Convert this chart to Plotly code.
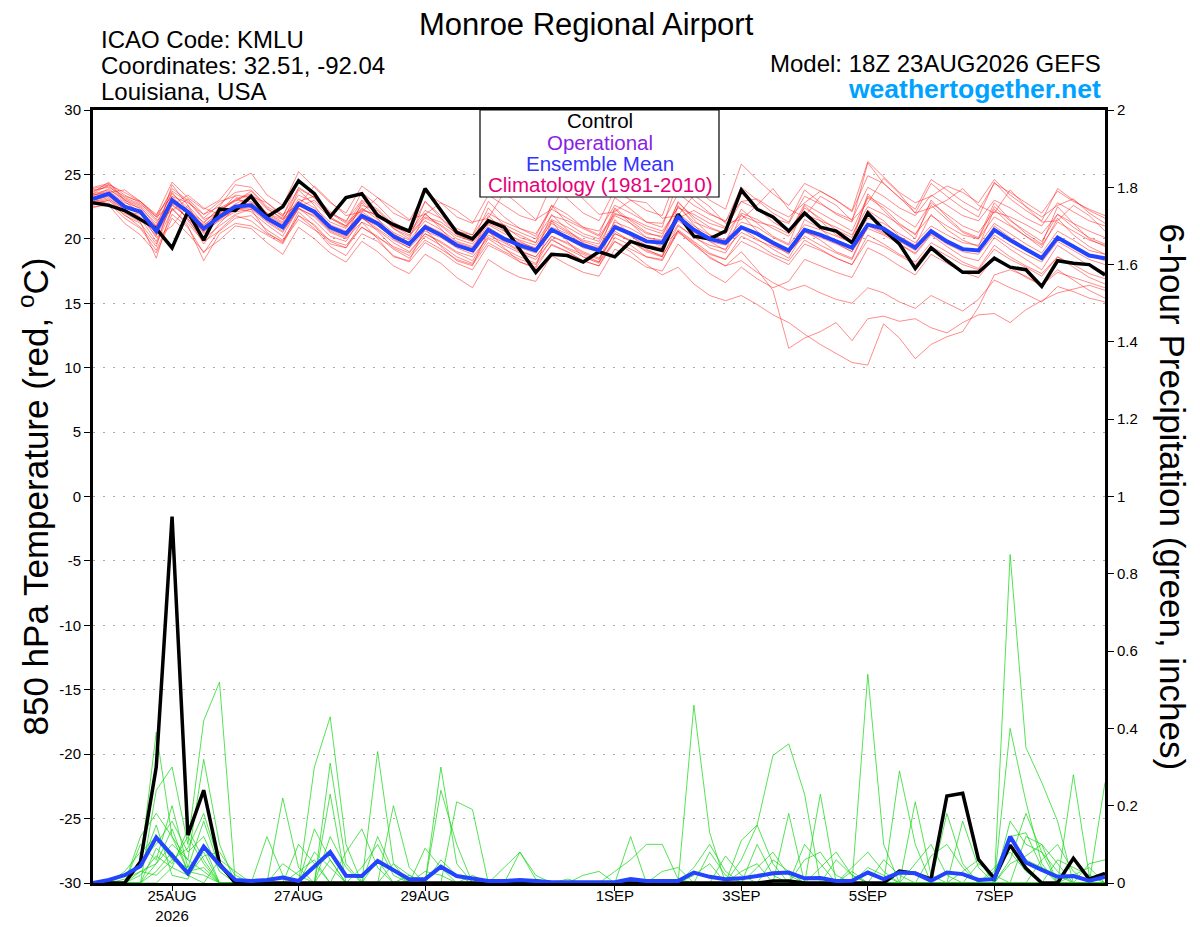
import plotly.graph_objects as go
import pandas as pd

# 6-hourly forecast steps of the 18Z 23AUG2026 GEFS run
times = pd.date_range("2026-08-23 18:00", periods=65, freq="6h")

# 850 hPa temperature (C): control and ensemble mean
ctl_temp = [22.8, 22.6,22.2,21.5,20.8, 19.3,22.1,19.9,22.3, 22.2,23.3,21.7,22.5, 24.5,23.5,21.7,23.2,
            23.5,21.8,21.1,20.6, 23.9,22.2,20.5,20.0, 21.4,20.9,19.2,17.4, 18.8,18.7,18.2,19.0,
            18.6,19.8,19.4,19.1, 21.9,20.2,20.0,20.6, 23.8,22.3,21.7,20.6, 22.0,20.9,20.6,19.7,
            22.0,20.7,19.6,17.7, 19.3,18.3,17.4,17.4, 18.5,17.8,17.6,16.3, 18.3,18.1,18.0,17.2]
mean_temp = [23.1, 23.5,22.5,22.1,20.6, 23.0,22.1,20.8,21.7, 22.5,22.6,21.6,20.9, 22.7,22.1,20.9,20.4,
             21.8,21.2,20.2,19.6, 20.9,20.3,19.5,19.1, 20.7,20.0,19.5,19.1, 20.7,20.1,19.5,19.1,
             20.9,20.4,19.8,19.7, 21.7,20.7,20.0,19.7, 20.9,20.4,19.7,19.1, 20.7,20.3,19.8,19.3,
             21.1,20.8,20.0,19.3, 20.6,19.8,19.2,19.1, 20.7,19.9,19.2,18.5, 20.1,19.4,18.7,18.5]

# 6-hour precipitation (inches): control and ensemble mean
ctl_precip = [0, 0,0,0.055,0.30, 0.948,0.124,0.24,0.05, 0,0,0,0, 0,0,0,0,
              0,0,0,0, 0,0,0,0, 0,0,0,0, 0,0,0,0,
              0,0,0,0, 0,0,0,0, 0,0,0.005,0.005, 0,0,0,0,
              0,0,0.031,0.025, 0.01,0.225,0.232,0.061, 0.012,0.098,0.038,0, 0,0.064,0.01,0.025]
mean_precip = [0, 0.008,0.02,0.044,0.118, 0.07,0.025,0.094,0.047, 0.008,0.005,0.008,0.014, 0.005,0.042,0.08,0.019,
               0.018,0.057,0.034,0.01, 0.01,0.042,0.018,0.012, 0.005,0.005,0.008,0.005, 0.002,0.002,0.002,0.002,
               0.002,0.01,0.005,0.005, 0.005,0.027,0.016,0.01, 0.012,0.018,0.025,0.027, 0.012,0.013,0.005,0.006,
               0.027,0.01,0.027,0.025, 0.006,0.027,0.023,0.008, 0.01,0.12,0.053,0.034, 0.016,0.018,0.006,0.016]

# ensemble member temperatures
t_m01 = [24.0, 24.3,23.4,22.8,21.5, 23.9,23.0,21.6,22.7, 23.6,23.8,22.5,21.8, 23.9,23.2,22.0,21.4, 23.0,22.3,21.1,20.5, 22.2,21.6,20.6,20.3, 22.0,21.3,20.8,20.4, 22.3,21.6,20.9,20.6, 22.6,22.0,21.3,21.2, 23.5,22.6,21.9,21.4, 22.9,22.3,21.6,21.2, 23.3,22.7,22.0,21.5, 24.0,23.3,22.4,21.8, 23.4,22.6,21.8,21.4, 23.0,22.4,21.6,21.0, 22.8,22.1,21.4,21.0]
t_m02 = [22.6, 23.0,21.8,21.2,19.6, 22.3,21.2,19.8,20.6, 21.6,21.8,20.7,19.9, 21.8,21.1,19.8,19.3, 20.9,20.2,19.2,18.5, 19.9,19.2,18.4,18.0, 19.7,19.0,18.4,18.0, 19.5,19.0,18.3,17.9, 19.8,19.2,18.6,18.4, 20.5,19.6,18.8,18.4, 19.8,19.2,18.6,18.0, 19.6,19.1,18.5,18.0, 19.9,19.4,18.7,18.0, 19.4,18.7,18.0,17.6, 19.2,18.4,17.8,17.1, 18.6,18.0,17.3,16.9]
t_m03 = [23.3, 23.9,22.9,22.0,20.1, 21.0,22.6,21.2,22.4, 23.0,23.4,22.0,21.3, 24.0,23.2,21.6,21.0, 22.9,22.0,20.8,20.0, 22.9,21.6,20.3,19.8, 21.2,20.6,19.8,19.2, 21.4,20.6,19.9,19.6, 21.8,21.2,20.4,20.2, 22.8,21.7,20.9,20.4, 23.5,22.4,21.3,20.6, 22.4,21.6,20.7,20.1, 23.2,22.4,21.2,20.3, 22.6,21.5,20.5,20.0, 22.5,21.4,20.6,19.8, 21.9,20.9,20.1,19.6]
t_m04 = [23.6, 24.4,23.0,22.3,20.3, 24.2,22.6,20.5,22.0, 23.4,23.2,21.8,20.8, 23.8,22.6,20.9,20.3, 22.8,21.6,20.0,19.3, 22.0,20.8,19.4,19.0, 21.8,20.6,19.6,19.0, 21.9,20.7,19.7,19.1, 22.3,21.2,20.1,19.8, 22.9,21.5,20.3,19.8, 22.3,21.2,20.2,19.6, 22.6,21.4,20.3,19.7, 23.5,22.2,21.0,20.0, 23.0,21.7,20.6,20.1, 22.8,21.5,20.4,19.6, 22.5,21.2,20.0,19.4]
t_m05 = [22.9, 23.2,22.0,21.3,18.5, 22.4,21.0,18.3,20.4, 21.2,21.0,20.3,19.6, 21.8,20.8,19.4,18.7, 20.4,19.8,18.7,18.2, 19.7,19.0,18.1,17.6, 19.5,18.9,18.2,17.7, 19.6,19.0,18.3,17.9, 20.1,19.5,18.6,18.3, 20.7,19.8,18.9,18.4, 20.2,19.6,18.8,18.3, 19.9,19.2,18.5,18.0, 20.3,19.6,18.8,18.2, 19.7,19.0,18.2,17.7, 19.5,18.6,17.9,17.3, 18.6,17.8,17.0,16.5]
t_m06 = [23.8, 24.0,23.3,22.9,21.9, 23.3,22.8,21.9,22.5, 24.2,24.0,22.8,21.7, 24.6,23.4,22.1,21.3, 23.6,22.6,21.3,20.6, 22.9,21.8,20.8,20.3, 22.9,21.7,20.8,20.2, 22.6,21.9,20.9,20.3, 23.2,22.3,21.3,20.9, 24.5,23.0,22.0,21.3, 24.0,23.0,22.0,21.3, 23.8,22.8,21.9,21.3, 25.9,24.3,23.2,22.0, 24.3,23.3,22.4,21.7, 24.4,23.1,22.2,21.4, 23.9,23.0,22.2,21.6]
t_m07 = [23.0, 23.4,22.6,22.0,21.0, 22.8,22.2,20.4,21.5, 22.3,22.4,21.4,20.6, 22.3,21.8,20.6,20.1, 21.6,20.8,19.9,19.3, 20.6,20.1,19.3,18.8, 20.5,19.8,19.1,18.6, 20.2,19.7,19.0,18.5, 20.4,19.8,19.1,18.7, 20.6,19.7,18.5,17.9, 19.0,17.6,16.0,11.5, 12.3,12.8,13.5,12.1, 13.8,14.0,13.6,13.8, 13.1,12.7,13.5,14.1, 14.2,13.5,14.5,15.2, 15.8,16.1,16.4,16.0]
t_m08 = [22.8, 23.1,22.3,21.7,20.2, 22.6,21.7,20.6,21.4, 22.1,22.3,21.3,20.5, 22.4,21.7,20.5,20.0, 21.3,20.7,19.7,19.0, 20.4,19.8,19.0,18.6, 20.1,19.5,18.9,18.4, 19.9,19.3,18.8,18.2, 19.8,19.0,18.0,17.2, 17.8,16.5,15.6,15.2, 15.6,14.9,14.1,13.5, 12.6,11.8,11.1,10.4, 10.2,13.4,12.3,10.7, 11.8,12.4,12.8,14.7, 17.2,17.6,17.1,16.4, 17.4,17.0,16.6,16.2]
t_m09 = [23.2, 23.6,22.4,22.2,20.9, 23.3,22.0,21.1,21.9, 22.6,22.8,21.8,21.1, 22.9,22.2,21.1,20.6, 22.1,21.3,20.4,19.7, 21.1,20.5,19.7,19.3, 20.9,20.1,19.7,19.3, 20.9,20.4,19.6,19.3, 21.1,20.5,19.9,19.4, 20.6,19.5,18.6,17.9, 18.3,17.4,16.6,16.0, 16.4,15.8,15.3,15.0, 16.2,15.8,15.1,14.6, 15.6,15.0,14.4,15.3, 16.8,16.2,15.7,15.1, 16.3,15.9,15.4,15.1]
t_m10 = [23.4, 23.7,22.8,22.4,21.2, 23.5,22.4,21.0,22.2, 23.0,22.9,21.9,21.2, 23.1,22.4,21.3,20.8, 22.4,21.5,20.5,19.9, 21.4,20.7,19.8,19.4, 21.1,20.4,19.9,19.5, 21.2,20.5,19.8,19.4, 21.3,20.8,20.1,19.9, 22.0,21.0,20.3,19.9, 21.3,20.9,20.1,19.5, 21.1,20.7,20.2,19.7, 21.6,21.2,20.4,19.7, 21.0,20.3,19.7,19.5, 21.2,20.4,19.6,18.9, 20.6,19.9,19.1,18.8]
t_m11 = [23.5, 23.8,23.1,22.6,21.4, 22.2,23.1,21.9,22.9, 23.3,22.4,22.0,21.5, 22.5,23.0,21.7,21.0, 22.2,21.9,20.8,20.2, 21.6,21.1,20.2,19.8, 22.4,21.0,20.1,19.7, 22.6,21.2,20.4,20.0, 21.9,21.6,21.0,20.6, 22.4,21.9,21.2,20.8, 22.9,23.1,22.3,21.7, 22.8,23.7,23.0,22.2, 26.0,24.8,23.6,22.8, 23.3,24.1,23.6,22.8, 24.6,23.4,22.5,21.7, 22.6,23.1,22.0,21.2]
t_m12 = [22.4, 22.8,21.6,20.8,19.1, 21.9,20.9,18.9,20.7, 21.8,21.4,20.4,19.8, 21.5,20.7,19.9,19.5, 20.9,20.1,19.4,18.9, 20.4,19.7,18.9,18.3, 20.3,19.7,19.0,18.6, 20.2,19.6,18.9,18.4, 20.4,19.9,19.3,19.2, 21.1,20.1,19.5,19.2, 20.5,19.9,19.4,18.9, 20.5,20.1,19.6,19.0, 20.8,20.3,19.6,18.9, 20.4,19.6,19.0,18.8, 20.3,19.5,18.8,18.2, 19.8,19.1,18.4,18.0]
t_m13 = [23.7, 24.1,23.0,22.5,21.0, 23.6,22.2,21.3,22.3, 22.9,23.7,22.4,21.5, 23.4,22.8,21.6,20.9, 22.6,22.2,21.0,20.3, 21.7,21.3,20.4,19.9, 21.5,21.1,20.5,20.0, 21.8,21.4,20.8,20.2, 22.0,21.5,20.8,20.4, 22.5,21.3,20.8,20.4, 22.0,21.5,20.8,20.2, 21.9,21.4,20.9,20.3, 22.5,21.9,21.1,20.4, 21.8,21.0,20.3,20.0, 21.7,21.0,20.2,19.5, 21.3,20.6,19.9,19.5]
t_m14 = [23.0, 23.3,22.2,21.6,19.8, 22.7,21.6,19.6,21.2, 22.4,22.1,21.1,20.2, 22.4,21.4,20.2,19.8, 21.7,20.6,19.3,18.7, 20.2,19.5,18.6,18.1, 20.0,19.2,18.6,18.1, 20.0,19.2,18.6,18.1, 20.6,19.8,19.0,18.6, 21.0,20.2,19.3,18.9, 20.8,20.0,19.2,18.5, 20.6,19.9,19.0,18.5, 21.1,20.5,19.6,18.8, 20.3,19.4,18.6,18.3, 20.1,19.2,18.4,17.6, 19.5,18.7,17.9,17.4]
t_m15 = [23.9, 24.2,23.2,22.7,21.7, 23.7,22.9,21.5,22.0, 23.1,23.5,22.3,21.6, 22.9,23.3,22.0,21.2, 22.3,21.8,20.9,20.5, 21.9,21.0,20.0,19.6, 21.3,20.8,20.3,19.7, 21.5,20.9,20.2,19.8, 22.4,21.4,20.5,20.1, 21.6,22.2,21.5,20.9, 21.8,21.3,21.0,20.4, 22.7,22.0,21.3,20.6, 23.3,22.6,21.7,20.9, 22.8,21.9,21.0,20.5, 22.1,21.7,21.1,20.4, 21.9,21.2,20.6,20.1]
t_m16 = [22.7, 23.0,22.1,21.9,20.5, 22.9,21.5,20.7,21.6, 22.2,22.6,21.5,20.9, 22.6,21.9,20.7,20.2, 21.6,21.0,20.1,19.5, 21.1,20.3,19.5,19.0, 20.6,20.1,19.3,18.9, 20.7,20.0,19.3,19.0, 20.9,20.2,19.5,19.3, 21.4,20.5,19.8,19.5, 20.9,20.3,19.5,19.0, 20.2,19.5,18.9,18.4, 21.0,20.4,19.8,19.1, 20.5,19.9,19.3,19.0, 21.0,20.1,19.3,18.6, 20.2,19.4,18.7,18.3]
t_m17 = [23.5, 24.2,23.6,22.9,21.8, 24.4,23.2,22.3,23.0, 24.5,25.1,23.4,22.6, 25.2,24.0,22.8,22.0, 24.1,23.2,22.0,21.4, 23.6,22.8,21.7,21.2, 23.4,22.6,21.8,21.4, 24.2,23.1,22.0,21.4, 23.8,23.0,22.2,21.8, 25.1,24.0,23.0,22.3, 25.8,24.6,23.5,22.6, 24.3,23.7,23.0,22.1, 24.9,24.3,23.2,22.3, 24.6,23.8,22.9,22.2, 24.3,23.6,22.8,22.0, 23.7,22.9,22.3,21.8]
t_m18 = [23.4, 23.6,23.8,22.9,21.7, 22.6,23.4,22.4,21.9, 22.7,23.3,22.8,21.9, 22.6,24.1,22.9,21.8, 22.1,23.2,22.4,21.5, 21.9,22.8,22.2,21.3, 21.6,23.6,22.6,21.5, 22.3,24.4,23.1,21.9, 22.1,23.0,22.8,21.6, 21.8,23.4,22.5,21.2, 21.5,22.6,23.9,22.3, 21.7,23.3,22.6,21.4, 22.8,24.7,23.5,22.0, 22.4,23.0,23.9,22.6, 22.0,23.8,22.5,21.3, 21.4,22.6,21.8,20.6]
t_m19 = [22.5, 22.6,21.2,20.3,18.9, 21.6,20.4,19.0,19.9, 21.0,20.8,19.7,18.8, 20.9,20.0,18.9,18.2, 19.8,19.0,17.9,17.3, 18.8,18.1,17.0,16.2, 18.4,17.6,17.0,16.7, 18.7,18.0,17.4,17.1, 19.2,18.6,17.8,17.5, 19.6,18.4,17.3,16.6, 17.8,16.9,16.2,16.7, 18.4,17.9,17.4,17.0, 19.3,18.7,17.9,17.2, 18.8,18.1,17.4,17.0, 18.6,17.8,17.0,16.4, 17.6,16.8,16.0,15.4]
t_m20 = [23.1, 22.7,21.9,20.9,19.4, 23.2,21.4,20.0,21.0, 21.9,22.3,20.5,19.7, 22.1,21.0,19.6,19.3, 21.3,20.0,18.6,18.3, 20.8,19.4,18.3,17.9, 20.6,19.3,18.2,17.8, 21.4,19.8,18.6,18.2, 21.5,20.3,19.2,18.6, 22.6,21.1,19.8,19.1, 21.9,20.6,19.6,18.8, 21.5,20.8,19.7,19.0, 22.2,21.4,20.2,19.5, 21.9,20.7,19.9,19.4, 22.3,21.1,20.2,19.3, 21.6,20.3,19.4,18.8]

# ensemble member precipitation
p_m01 = [0, 0,0,0.05,0.39, 0.12,0.03,0.02,0, 0,0,0,0, 0,0,0,0, 0,0,0,0, 0,0.30,0.05,0, 0,0,0,0, 0,0,0,0, 0,0,0,0, 0,0,0,0, 0.06,0.15,0.33,0.36, 0.23,0,0,0, 0,0,0,0, 0,0,0,0, 0,0.85,0.35,0.26, 0.16,0,0,0]
p_m02 = [0, 0,0,0,0.24, 0.30,0.10,0.42,0.52, 0,0,0,0, 0,0,0.23,0, 0,0,0,0, 0,0,0,0, 0,0,0,0, 0,0,0,0, 0,0,0,0, 0,0.46,0.13,0, 0,0,0,0, 0,0,0,0, 0.54,0.10,0,0, 0,0,0,0, 0,0.40,0.21,0.05, 0,0,0,0]
p_m03 = [0, 0,0,0.12,0.18, 0.12,0.06,0.32,0.10, 0,0,0,0, 0,0.30,0.43,0.10, 0,0,0,0, 0,0.24,0.10,0, 0,0,0,0, 0,0,0,0, 0,0.12,0,0, 0,0,0,0, 0,0,0,0, 0,0,0,0, 0,0,0.29,0.10, 0,0,0,0, 0,0,0,0, 0,0.28,0.02,0]
p_m04 = [0, 0,0.03,0.08,0.12, 0.06,0.04,0.16,0.04, 0,0,0,0.22, 0.04,0,0,0, 0,0.34,0.05,0, 0,0,0,0, 0,0,0,0, 0,0,0,0, 0,0,0,0, 0,0,0,0, 0.11,0.15,0.05,0, 0,0,0,0, 0,0,0,0, 0,0.18,0.05,0, 0,0,0,0, 0,0,0,0.26]
p_m05 = [0, 0,0,0.10,0.06, 0.20,0.04,0.08,0, 0,0,0,0, 0,0,0.31,0.05, 0,0,0.20,0.04, 0,0,0.21,0.19, 0,0,0,0, 0,0,0,0, 0,0,0,0, 0,0,0,0, 0,0,0,0.18, 0,0.23,0,0, 0,0,0,0.21, 0.02,0,0,0, 0,0,0.12,0.10, 0,0,0,0]
p_m06 = [0, 0,0,0,0.09, 0.05,0.12,0.05,0, 0,0,0,0, 0,0,0,0, 0,0,0,0, 0,0,0,0, 0,0.04,0.08,0.02, 0,0,0,0, 0.03,0.06,0.10,0.10, 0.01,0,0,0, 0,0,0,0, 0.10,0.05,0,0, 0,0,0,0, 0,0,0.16,0.04, 0,0.16,0.10,0.08, 0,0,0,0]
p_m07 = [0, 0,0.02,0.04,0.15, 0.02,0.01,0.10,0, 0,0,0.12,0.02, 0,0,0,0.08, 0.14,0.04,0,0, 0.09,0.04,0,0, 0,0,0.08,0.01, 0,0,0,0, 0,0,0,0, 0,0,0,0.07, 0.02,0,0,0, 0,0,0,0.04, 0.08,0.03,0,0, 0,0,0,0, 0.03,0.12,0.06,0.04, 0.02,0,0,0]
p_m08 = [0, 0,0,0,0.03, 0.08,0.02,0,0.06, 0.03,0,0,0, 0.10,0.05,0,0, 0,0,0.05,0.02, 0,0,0,0, 0,0,0,0, 0,0,0,0, 0,0,0,0, 0,0.04,0.10,0.03, 0,0.10,0.02,0, 0,0,0.06,0.02, 0,0,0,0, 0.07,0.10,0.04,0, 0,0,0,0, 0.06,0.04,0.02,0]
p_m09 = [0, 0,0,0.06,0.10, 0.16,0.08,0.12,0.03, 0,0,0,0, 0,0,0.12,0.04, 0,0,0,0, 0,0.06,0.02,0, 0,0,0,0, 0,0,0.02,0.03, 0,0,0,0, 0,0,0,0, 0,0,0.06,0.03, 0,0,0,0, 0,0.06,0.02,0, 0,0,0,0, 0,0.12,0.13,0.04, 0,0,0,0]
p_m10 = [0, 0,0.01,0.03,0.05, 0.10,0.06,0.03,0, 0,0,0,0, 0,0.08,0.04,0, 0,0.12,0.03,0, 0,0,0,0, 0,0,0,0.01, 0,0,0,0, 0,0,0,0.03, 0.04,0,0,0, 0,0,0,0, 0,0.04,0.08,0.02, 0,0,0,0, 0,0,0,0.05, 0.02,0,0,0.06, 0.10,0.03,0,0.02]
p_m11 = [0, 0,0,0.02,0.07, 0.04,0.14,0.06,0, 0,0,0,0.05, 0.02,0,0,0, 0.04,0.10,0.02,0, 0,0,0,0.02, 0,0,0,0, 0,0,0,0, 0,0,0,0, 0,0,0.08,0.02, 0,0,0,0, 0,0,0,0, 0.04,0.02,0,0, 0,0,0,0, 0,0.06,0.18,0.08, 0.03,0,0,0]
p_m12 = [0, 0,0,0,0.05, 0.14,0.03,0.04,0, 0,0,0,0, 0,0,0.06,0, 0,0,0,0, 0.03,0.02,0,0, 0,0,0,0, 0,0,0,0, 0,0,0,0, 0,0,0,0, 0,0.04,0.08,0.02, 0,0,0,0, 0,0,0,0.05, 0.10,0.02,0,0, 0.04,0.08,0.03,0, 0,0,0.05,0.06]
p_m13 = [0, 0,0,0.03,0.02, 0.06,0.09,0.18,0.05, 0,0,0,0, 0,0.14,0.06,0, 0,0.06,0,0, 0,0,0,0, 0,0,0,0, 0,0,0,0, 0,0,0,0, 0,0,0,0, 0.03,0.05,0,0, 0.06,0.08,0.02,0, 0,0,0,0, 0,0,0,0, 0,0.05,0.07,0.10, 0.05,0,0,0]
p_m14 = [0, 0,0,0,0, 0.04,0.02,0.07,0.08, 0.02,0,0,0, 0.03,0.06,0,0, 0,0,0,0.02, 0,0,0,0, 0,0,0,0, 0,0.01,0,0, 0,0,0,0, 0,0.02,0.05,0, 0,0,0,0, 0,0,0,0.03, 0,0,0,0, 0,0,0.03,0.06, 0,0,0,0, 0,0.02,0.04,0]

temp_members = [t_m01, t_m02, t_m03, t_m04, t_m05, t_m06, t_m07, t_m08, t_m09, t_m10,
                t_m11, t_m12, t_m13, t_m14, t_m15, t_m16, t_m17, t_m18, t_m19, t_m20]
precip_members = [p_m01, p_m02, p_m03, p_m04, p_m05, p_m06, p_m07,
                  p_m08, p_m09, p_m10, p_m11, p_m12, p_m13, p_m14]

# axis ticks
tick_dates = ["2026-08-25", "2026-08-27", "2026-08-29", "2026-09-01",
              "2026-09-03", "2026-09-05", "2026-09-07"]
tick_labels = ["25AUG<br>2026", "27AUG", "29AUG", "1SEP", "3SEP", "5SEP", "7SEP"]
temp_ticks = [-30, -25, -20, -15, -10, -5, 0, 5, 10, 15, 20, 25, 30]
precip_ticks = [0, 0.2, 0.4, 0.6, 0.8, 1.0, 1.2, 1.4, 1.6, 1.8, 2.0]
precip_labels = ["0", "0.2", "0.4", "0.6", "0.8", "1", "1.2", "1.4", "1.6", "1.8", "2"]

FONT = "Liberation Sans, Arial, sans-serif"

# plot area in screen pixels; the page body adds an 8px offset
OFF = 8
W, H = 1200 - OFF, 927 - OFF
L, R, T, B = 93, 1105, 110, 883


def px(x):
    return (x - L) / (R - L)


def py(y):
    return (B - y) / (B - T)


fig = go.Figure()

for m in temp_members:
    fig.add_trace(go.Scatter(x=times, y=m, mode="lines",
                             line=dict(color="rgba(255,20,20,0.55)", width=0.9),
                             hoverinfo="skip", showlegend=False))

for m in precip_members:
    fig.add_trace(go.Scatter(x=times, y=m, mode="lines", yaxis="y2",
                             line=dict(color="rgba(20,215,20,0.8)", width=0.9),
                             hoverinfo="skip", showlegend=False))

fig.add_trace(go.Scatter(x=times, y=ctl_temp, mode="lines",
                         line=dict(color="black", width=3.5), showlegend=False))
fig.add_trace(go.Scatter(x=times, y=mean_temp, mode="lines",
                         line=dict(color="#2244ff", width=4), showlegend=False))
fig.add_trace(go.Scatter(x=times, y=ctl_precip, mode="lines", yaxis="y2",
                         line=dict(color="black", width=3.5), showlegend=False))
fig.add_trace(go.Scatter(x=times, y=mean_precip, mode="lines", yaxis="y2",
                         line=dict(color="#2244ff", width=4), showlegend=False))

# header text
notes = [
    dict(text="Monroe Regional Airport", x=px(586), y=py(24), xanchor="center",
         font=dict(size=31)),
    dict(text="ICAO Code: KMLU", x=px(99), y=py(39), xanchor="left", font=dict(size=24)),
    dict(text="Coordinates: 32.51, -92.04", x=px(99), y=py(66), xanchor="left",
         font=dict(size=24)),
    dict(text="Louisiana, USA", x=px(99), y=py(92), xanchor="left", font=dict(size=24)),
    dict(text="Model: 18Z 23AUG2026 GEFS", x=px(1103), y=py(63), xanchor="right",
         font=dict(size=24)),
    dict(text="<b>weathertogether.net</b>", x=px(1103), y=py(89), xanchor="right",
         font=dict(size=26.5, color="#00a2ff")),
    # legend box lines
    dict(text="Control", x=px(600), y=py(121), xanchor="center", font=dict(size=20.5)),
    dict(text="Operational", x=px(600), y=py(142), xanchor="center",
         font=dict(size=20.5, color="#8a1ee6")),
    dict(text="Ensemble Mean", x=px(600), y=py(163), xanchor="center",
         font=dict(size=20.5, color="#3333ff")),
    dict(text="Climatology (1981-2010)", x=px(600), y=py(185), xanchor="center",
         font=dict(size=20.5, color="#e6007a")),
    # axis titles
    dict(text="850 hPa Temperature (red, <sup>o</sup>C)", x=px(33), y=0.5,
         xanchor="center", textangle=-90, font=dict(size=35)),
    dict(text="6-hour Precipitation (green, inches)", x=px(1172), y=0.5,
         xanchor="center", textangle=90, font=dict(size=35)),
]
for n in notes:
    f = dict(family=FONT, color="black")
    f.update(n.pop("font"))
    fig.add_annotation(xref="paper", yref="paper", yanchor="middle", showarrow=False,
                       font=f, **n)

fig.add_shape(type="rect", xref="paper", yref="paper",
              x0=px(480), x1=px(719), y0=py(197), y1=py(110),
              fillcolor="white", line=dict(color="black", width=1.2), layer="above")

fig.update_layout(
    width=W, height=H,
    margin=dict(l=L - OFF, r=W - (R - OFF), t=T - OFF, b=H - (B - OFF), pad=0),
    paper_bgcolor="white", plot_bgcolor="white",
    font=dict(family=FONT, color="black", size=15),
    xaxis=dict(range=[times[0], times[-1]], tickvals=tick_dates, ticktext=tick_labels,
               ticks="outside", ticklen=5, tickcolor="black", showgrid=False,
               showline=True, linewidth=3, linecolor="black", mirror=True,
               tickfont=dict(size=15), ticklabelstandoff=-8, automargin=False),
    yaxis=dict(range=[-30, 30], tickvals=temp_ticks, ticktext=[str(v) for v in temp_ticks],
               ticks="outside", ticklen=6, tickcolor="black", showgrid=True,
               gridcolor="#aaaaaa", gridwidth=1, griddash="2px,8px", zeroline=False,
               showline=True, linewidth=3, linecolor="black", mirror=True,
               tickfont=dict(size=15), automargin=False),
    yaxis2=dict(range=[0, 2], overlaying="y", side="right", tickvals=precip_ticks,
                ticktext=precip_labels, ticks="outside", ticklen=6, tickcolor="black",
                showgrid=False, zeroline=False, showline=True, linewidth=3,
                linecolor="black", tickfont=dict(size=15), automargin=False),
)

fig.write_html("out.html", config={"displayModeBar": False})
